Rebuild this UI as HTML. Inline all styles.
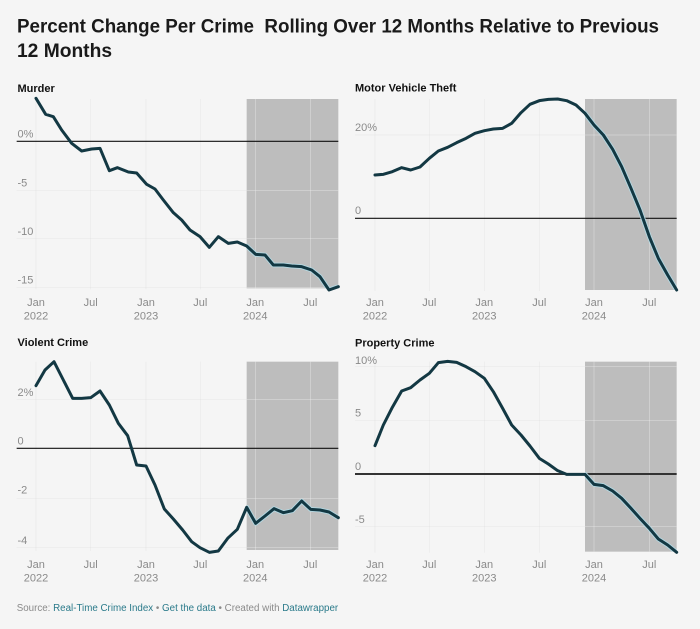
<!DOCTYPE html>
<html><head><meta charset="utf-8"><style>
html,body{margin:0;padding:0;background:#f5f5f5;}
svg{display:block;}
text{font-family:"Liberation Sans",Arial,sans-serif;}
.t{font-weight:bold;fill:#1a1a1a;}
.pt{font-weight:bold;fill:#111;font-size:11px;}
.tk{font-size:11px;fill:#8a8a8a;}
.g{stroke:#dedede;stroke-width:1;vector-effect:non-scaling-stroke;}
.gw{stroke:#f4f4f4;stroke-width:1;vector-effect:non-scaling-stroke;}
.z{stroke:#111;stroke-width:1.2;vector-effect:non-scaling-stroke;}
.ln{fill:none;stroke:#133843;stroke-width:3;stroke-linejoin:round;stroke-linecap:round;vector-effect:non-scaling-stroke;}
.halo{fill:none;stroke:#b4d8e2;stroke-width:4.8;stroke-linejoin:round;vector-effect:non-scaling-stroke;}
</style></head><body>
<svg width="700" height="629" viewBox="0 0 700 629" xmlns="http://www.w3.org/2000/svg">
<rect width="700" height="629" fill="#f5f5f5"/>
<text class="t" x="17" y="32.5" font-size="19" textLength="642" lengthAdjust="spacingAndGlyphs" xml:space="preserve">Percent Change Per Crime&#160; Rolling Over 12 Months Relative to Previous</text>
<text class="t" x="17" y="57" font-size="19" textLength="95" lengthAdjust="spacingAndGlyphs">12 Months</text>

<defs>
<clipPath id="c1"><rect x="740" y="297" width="275" height="568"/></clipPath>
<clipPath id="c2"><rect x="735" y="117" width="275" height="573"/></clipPath>
<clipPath id="c3"><rect x="740" y="125" width="275" height="565"/></clipPath>
<clipPath id="c4"><rect x="735" y="125" width="275" height="570"/></clipPath>
</defs>

<!-- Murder -->
<g transform="translate(0,0) scale(0.333333)">
<g class="g">
<line x1="108" y1="297" x2="108" y2="868"/><line x1="272" y1="297" x2="272" y2="868"/><line x1="438" y1="297" x2="438" y2="868"/><line x1="601" y1="297" x2="601" y2="868"/>
<line x1="50" y1="571" x2="1015" y2="571"/><line x1="50" y1="716" x2="1015" y2="716"/><line x1="50" y1="862" x2="1015" y2="862"/>
</g>
<rect x="740" y="297" width="275" height="568" fill="#bdbdbd"/>
<g class="gw">
<line x1="766" y1="297" x2="766" y2="865"/><line x1="931" y1="297" x2="931" y2="865"/>
<line x1="740" y1="571" x2="1015" y2="571"/><line x1="740" y1="716" x2="1015" y2="716"/><line x1="740" y1="862" x2="1015" y2="862"/>
</g>
<line class="z" x1="50" y1="424" x2="1015" y2="424"/>
<polyline class="halo" clip-path="url(#c1)" points="108,295 137,343 160,350 185,390 215,430 245,453 275,447 300,445 328,512 352,503 385,516 410,519 440,553 465,567 490,600 520,638 545,660 570,690 600,710 628,742 655,710 685,730 712,726 740,738 767,763 795,765 820,795 850,795 875,798 905,800 935,810 960,830 987,870 1015,860"/>
<polyline class="ln" points="108,295 137,343 160,350 185,390 215,430 245,453 275,447 300,445 328,512 352,503 385,516 410,519 440,553 465,567 490,600 520,638 545,660 570,690 600,710 628,742 655,710 685,730 712,726 740,738 767,763 795,765 820,795 850,795 875,798 905,800 935,810 960,830 987,870 1015,860"/>
</g>
<text class="pt" x="17.5" y="92">Murder</text>
<text class="tk" x="17.5" y="137.5">0%</text>
<text class="tk" x="17.5" y="186.5">-5</text>
<text class="tk" x="17.5" y="235">-10</text>
<text class="tk" x="17.5" y="283.5">-15</text>
<g class="tk" text-anchor="middle">
<text x="36" y="306">Jan</text><text x="36" y="319.5">2022</text>
<text x="90.7" y="306">Jul</text>
<text x="146" y="306">Jan</text><text x="146" y="319.5">2023</text>
<text x="200.3" y="306">Jul</text>
<text x="255.3" y="306">Jan</text><text x="255.3" y="319.5">2024</text>
<text x="310.3" y="306">Jul</text>
</g>

<!-- Motor Vehicle Theft -->
<g transform="translate(340,60) scale(0.333333)">
<g class="g">
<line x1="105" y1="117" x2="105" y2="693"/><line x1="268" y1="117" x2="268" y2="693"/><line x1="433" y1="117" x2="433" y2="693"/><line x1="598" y1="117" x2="598" y2="693"/>
<line x1="45" y1="225" x2="1010" y2="225"/>
</g>
<rect x="735" y="117" width="275" height="573" fill="#bdbdbd"/>
<g class="gw">
<line x1="762" y1="117" x2="762" y2="690"/><line x1="928" y1="117" x2="928" y2="690"/>
<line x1="735" y1="225" x2="1010" y2="225"/>
</g>
<line class="z" x1="45" y1="475" x2="1010" y2="475"/>
<polyline class="halo" clip-path="url(#c2)" points="105,345 130,343 157,335 185,323 212,330 240,321 268,295 295,273 323,262 350,248 378,235 405,220 433,212 460,207 488,205 515,190 543,158 570,133 598,122 625,118 653,117 680,122 708,135 735,160 762,195 790,225 818,268 845,320 873,385 900,450 928,530 955,595 983,645 1010,690"/>
<polyline class="ln" points="105,345 130,343 157,335 185,323 212,330 240,321 268,295 295,273 323,262 350,248 378,235 405,220 433,212 460,207 488,205 515,190 543,158 570,133 598,122 625,118 653,117 680,122 708,135 735,160 762,195 790,225 818,268 845,320 873,385 900,450 928,530 955,595 983,645 1010,690"/>
</g>
<text class="pt" x="355" y="91.5">Motor Vehicle Theft</text>
<text class="tk" x="355" y="131">20%</text>
<text class="tk" x="355" y="214">0</text>
<g class="tk" text-anchor="middle">
<text x="375" y="306">Jan</text><text x="375" y="319.5">2022</text>
<text x="429.3" y="306">Jul</text>
<text x="484.3" y="306">Jan</text><text x="484.3" y="319.5">2023</text>
<text x="539.3" y="306">Jul</text>
<text x="594" y="306">Jan</text><text x="594" y="319.5">2024</text>
<text x="649.3" y="306">Jul</text>
</g>

<!-- Violent Crime -->
<g transform="translate(0,320) scale(0.333333)">
<g class="g">
<line x1="108" y1="125" x2="108" y2="693"/><line x1="272" y1="125" x2="272" y2="693"/><line x1="438" y1="125" x2="438" y2="693"/><line x1="601" y1="125" x2="601" y2="693"/>
<line x1="50" y1="238" x2="1015" y2="238"/><line x1="50" y1="535" x2="1015" y2="535"/><line x1="50" y1="683" x2="1015" y2="683"/>
</g>
<rect x="740" y="125" width="275" height="565" fill="#bdbdbd"/>
<g class="gw">
<line x1="766" y1="125" x2="766" y2="690"/><line x1="931" y1="125" x2="931" y2="690"/>
<line x1="740" y1="238" x2="1015" y2="238"/><line x1="740" y1="535" x2="1015" y2="535"/><line x1="740" y1="683" x2="1015" y2="683"/>
</g>
<line class="z" x1="50" y1="385" x2="1015" y2="385"/>
<polyline class="halo" clip-path="url(#c3)" points="108,197 135,150 162,125 190,180 218,235 245,235 272,233 300,213 328,255 355,310 383,347 410,435 438,438 465,495 493,567 520,597 548,630 575,665 600,683 628,697 655,693 683,655 712,628 740,562 767,610 795,588 822,566 850,578 877,572 905,543 932,568 960,570 987,576 1015,593"/>
<polyline class="ln" points="108,197 135,150 162,125 190,180 218,235 245,235 272,233 300,213 328,255 355,310 383,347 410,435 438,438 465,495 493,567 520,597 548,630 575,665 600,683 628,697 655,693 683,655 712,628 740,562 767,610 795,588 822,566 850,578 877,572 905,543 932,568 960,570 987,576 1015,593"/>
</g>
<text class="pt" x="17.5" y="346">Violent Crime</text>
<text class="tk" x="17.5" y="396">2%</text>
<text class="tk" x="17.5" y="444.5">0</text>
<text class="tk" x="17.5" y="493.5">-2</text>
<text class="tk" x="17.5" y="544">-4</text>
<g class="tk" text-anchor="middle">
<text x="36" y="568">Jan</text><text x="36" y="581.5">2022</text>
<text x="90.7" y="568">Jul</text>
<text x="146" y="568">Jan</text><text x="146" y="581.5">2023</text>
<text x="200.3" y="568">Jul</text>
<text x="255.3" y="568">Jan</text><text x="255.3" y="581.5">2024</text>
<text x="310.3" y="568">Jul</text>
</g>

<!-- Property Crime -->
<g transform="translate(340,320) scale(0.333333)">
<g class="g">
<line x1="105" y1="125" x2="105" y2="698"/><line x1="268" y1="125" x2="268" y2="698"/><line x1="433" y1="125" x2="433" y2="698"/><line x1="598" y1="125" x2="598" y2="698"/>
<line x1="45" y1="140" x2="1010" y2="140"/><line x1="45" y1="302" x2="1010" y2="302"/><line x1="45" y1="620" x2="1010" y2="620"/>
</g>
<rect x="735" y="125" width="275" height="570" fill="#bdbdbd"/>
<g class="gw">
<line x1="762" y1="125" x2="762" y2="695"/><line x1="928" y1="125" x2="928" y2="695"/>
<line x1="735" y1="140" x2="1010" y2="140"/><line x1="735" y1="302" x2="1010" y2="302"/><line x1="735" y1="620" x2="1010" y2="620"/>
</g>
<line x1="45" y1="462" x2="1010" y2="462" stroke="#333" stroke-width="2" vector-effect="non-scaling-stroke"/>
<polyline class="halo" clip-path="url(#c4)" points="105,377 130,315 157,262 185,213 212,203 240,180 268,160 295,128 323,124 350,127 378,140 405,155 433,175 460,215 488,265 515,315 543,345 570,378 598,415 625,432 653,452 680,463 708,463 735,463 762,493 790,497 818,513 845,535 873,565 900,595 928,625 955,657 983,675 1010,697"/>
<polyline class="ln" points="105,377 130,315 157,262 185,213 212,203 240,180 268,160 295,128 323,124 350,127 378,140 405,155 433,175 460,215 488,265 515,315 543,345 570,378 598,415 625,432 653,452 680,463 708,463 735,463 762,493 790,497 818,513 845,535 873,565 900,595 928,625 955,657 983,675 1010,697"/>
</g>
<text class="pt" x="355" y="346.5">Property Crime</text>
<text class="tk" x="355" y="364">10%</text>
<text class="tk" x="355" y="416.5">5</text>
<text class="tk" x="355" y="470">0</text>
<text class="tk" x="355" y="523">-5</text>
<g class="tk" text-anchor="middle">
<text x="375" y="568">Jan</text><text x="375" y="581.5">2022</text>
<text x="429.3" y="568">Jul</text>
<text x="484.3" y="568">Jan</text><text x="484.3" y="581.5">2023</text>
<text x="539.3" y="568">Jul</text>
<text x="594" y="568">Jan</text><text x="594" y="581.5">2024</text>
<text x="649.3" y="568">Jul</text>
</g>

<!-- Footer -->
<text x="16.7" y="611" font-size="10" fill="#8a8a8a" textLength="321.5" lengthAdjust="spacingAndGlyphs">Source: <tspan fill="#2a7a8a">Real-Time Crime Index</tspan> • <tspan fill="#2a7a8a">Get the data</tspan> • Created with <tspan fill="#2a7a8a">Datawrapper</tspan></text>
</svg>
</body></html>
